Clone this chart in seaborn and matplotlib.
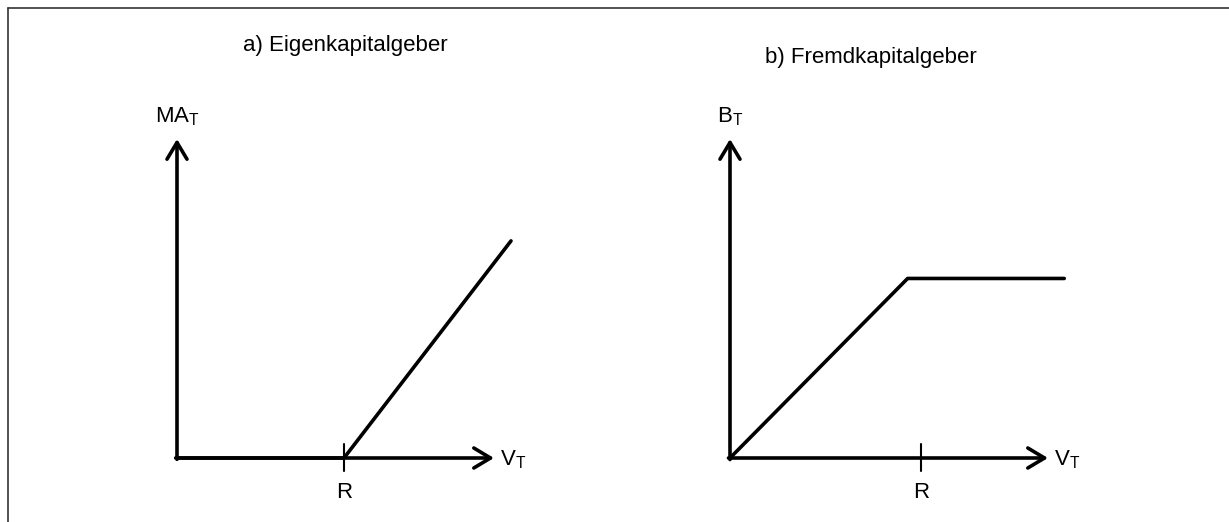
import matplotlib
matplotlib.use("Agg")
import matplotlib.pyplot as plt
from matplotlib.lines import Line2D
import seaborn as sns

# --- data (units: R = 1 in each panel) ---
# a) equity holders: MA_T = max(V_T - R, 0)
v_equity = [0.0, 1.0, 2.0]
ma_equity = [0.0, 0.0, 1.3]
# b) debt holders: B_T = min(V_T, R)
v_debt = [0.0, 0.93, 1.75]
b_debt = [0.0, 0.94, 0.94]

titles = ["a) Eigenkapitalgeber", "b) Fremdkapitalgeber"]
y_labels = [r"MA$_{\mathrm{T}}$", r"B$_{\mathrm{T}}$"]
x_label = r"V$_{\mathrm{T}}$"
tick_label = "R"

sns.set_style("white")
plt.rcParams["font.family"] = ["Liberation Sans", "DejaVu Sans"]
plt.rcParams["mathtext.fontset"] = "custom"
plt.rcParams["mathtext.rm"] = "Liberation Sans"
plt.rcParams["text.color"] = "black"

W, H = 1229, 522
fig = plt.figure(figsize=(W / 100, H / 100), dpi=100)

# panel geometry in pixels: origin, pixels per unit, arrow tips
panels = [
    dict(ox=177, oy=458, scale=167, xtip=494, ytip=139, title=(345, 46)),
    dict(ox=730, oy=458, scale=191, xtip=1048, ytip=139, title=(871, 58)),
]
series = [(v_equity, ma_equity), (v_debt, b_debt)]

LW = 2.6

def add_panel(p, xs, ys, title, ylab):
    x0, x1, y0, y1 = p["ox"] - 90, p["ox"] + 420, 80, 515
    ax = fig.add_axes([x0 / W, 1 - y1 / H, (x1 - x0) / W, (y1 - y0) / H])
    s = p["scale"]
    ax.set_xlim((x0 - p["ox"]) / s, (x1 - p["ox"]) / s)
    ax.set_ylim((p["oy"] - y1) / s, (p["oy"] - y0) / s)
    ax.axis("off")

    xt = (p["xtip"] - p["ox"]) / s
    yt = (p["oy"] - p["ytip"]) / s
    arrow = dict(arrowstyle="->,head_length=0.6,head_width=0.36", lw=LW,
                 color="black", shrinkA=0, shrinkB=0, mutation_scale=20)
    ax.annotate("", xy=(xt, 0), xytext=(-0.008, 0), arrowprops=arrow)
    ax.annotate("", xy=(0, yt), xytext=(0, -0.008), arrowprops=arrow)

    sns.lineplot(x=xs, y=ys, ax=ax, color="black", lw=LW, legend=False)

    # tick at R
    ax.plot([1.0, 1.0], [-13 / s, 14 / s], color="black", lw=1.5)
    ax.text(1.0, -40 / s, tick_label, ha="center", va="baseline", fontsize=16)
    ax.text(xt + 6 / s, -7 / s, x_label, ha="left", va="baseline", fontsize=16)
    ax.text(0.0, (p["oy"] - 122) / s, ylab, ha="center", va="baseline", fontsize=16)

    fig.text(p["title"][0] / W, 1 - p["title"][1] / H, title,
             ha="center", va="center", fontsize=16)

for p, (xs, ys), t, yl in zip(panels, series, titles, y_labels):
    add_panel(p, xs, ys, t, yl)

# frame: top and left edges only
fig.add_artist(Line2D([8 / W, 1.0], [1 - 8 / H, 1 - 8 / H], color="#333333", lw=1.2))
fig.add_artist(Line2D([8 / W, 8 / W], [1 - 8 / H, 0.0], color="#333333", lw=1.2))

fig.savefig("out.png", dpi=100, facecolor="white")
